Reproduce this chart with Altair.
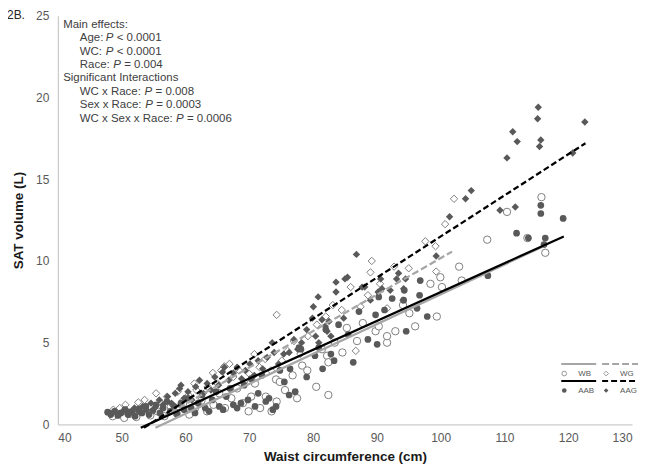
import altair as alt
import pandas as pd

# ---------------- data ----------------
x_ticks = [40, 50, 60, 70, 80, 90, 100, 110, 120, 130]
y_ticks = [0, 5, 10, 15, 20, 25]

groups = ["WB", "WG", "AAB", "AAG"]

# WB: open circles
wb_x = [48.6, 49.6, 50.4, 51.3, 52.3, 53.4, 54.5, 55.6, 56.7, 57.7, 58.6, 59.6, 60.6, 61.5, 62.5,
        63.4, 64.4, 65.3, 66.2, 67.2, 68.1, 69.0, 69.9, 70.3, 70.9, 71.7, 72.6, 73.5, 74.2, 74.3,
        74.8, 75.6, 76.8, 77.5, 78.3, 79.1, 80.5, 81.4, 82.2, 82.4, 82.4, 83.4, 84.6, 85.3, 86.9,
        87.8, 89.8, 90.3, 91.6, 91.6, 92.9, 94.1, 95.1, 96.0, 98.4, 99.4, 99.95, 100.2, 102.9,
        103.3, 107.3, 110.4, 113.6, 115.8, 116.4]
wb_y = [0.5, 0.8, 0.4, 0.65, 0.45, 0.9, 0.55, 0.8, 0.5, 1.1, 0.7, 1.25, 0.6, 1.0, 1.45,
        0.8, 1.2, 1.9, 1.0, 1.6, 2.2, 1.3, 0.8, 1.7, 2.5, 1.0, 1.7, 0.8, 2.75, 1.4,
        2.6, 2.1, 3.0, 1.6, 3.6, 3.3, 2.3, 4.6, 4.2, 3.8, 1.8, 5.0, 4.4, 5.9, 5.1,
        6.2, 5.7, 6.0, 5.0, 5.4, 5.7, 7.3, 6.8, 6.0, 8.6, 6.6, 9.0, 8.4, 9.65,
        8.8, 11.3, 13.0, 11.4, 13.9, 10.5]

# WG: open diamonds
wg_x = [48.7, 49.7, 50.6, 51.6, 52.6, 53.6, 54.4, 55.4, 56.2, 57.1, 58.0, 58.8, 59.7, 60.5, 61.4,
        61.7, 62.6, 63.5, 64.3, 65.0, 65.6, 66.1, 66.9, 67.5, 68.4, 69.2, 70.0, 70.8, 71.6, 72.5,
        73.4, 74.3, 75.1, 76.0, 77.0, 78.0, 79.2, 80.6, 82.0, 83.1, 84.5, 85.9, 86.7, 87.45, 88.6,
        89.0, 89.2, 90.5, 91.6, 92.7, 95.0, 97.6, 99.2, 99.3, 100.7, 102.1]
wg_y = [0.9, 1.0, 1.2, 0.75, 1.35, 1.5, 1.05, 1.9, 1.3, 1.7, 1.2, 2.0, 1.5, 1.8, 2.5,
        2.1, 1.6, 2.3, 3.15, 2.5, 3.3, 3.55, 3.7, 2.9, 3.3, 2.6, 3.1, 4.3, 3.5, 4.0,
        3.3, 6.7, 3.9, 4.5, 5.1, 4.3, 5.4, 6.1, 6.6, 7.3, 7.0, 8.4, 4.5, 7.2, 7.9,
        9.3, 10.0, 8.6, 7.1, 9.65, 9.55, 11.2, 10.9, 9.35, 12.25, 13.8]

# AAB: filled circles
aab_x = [47.8, 48.3, 48.9, 49.4, 49.9, 50.5, 51.0, 51.6, 52.1, 52.7, 53.2, 53.8, 54.3, 54.9, 55.4,
         56.0, 56.5, 57.1, 57.6, 58.2, 58.7, 59.3, 59.8, 60.4, 60.9, 61.5, 62.0, 62.6, 63.1, 63.7,
         64.2, 64.8, 65.3, 65.9, 66.4, 67.0, 67.5, 68.1, 68.7, 69.2, 69.8, 70.3, 70.9, 71.4, 72.0,
         72.6, 73.1, 73.7, 74.2, 74.8, 75.5, 76.25, 76.4, 77.2, 77.8, 78.1, 79.0, 80.3, 80.9, 81.5,
         82.0, 82.8, 83.3, 84.0, 85.5, 86.3, 87.2, 88.6, 89.8, 90.05, 90.3, 91.2, 92.4, 94.2, 94.3,
         94.6, 96.3, 96.7, 96.8, 97.9, 107.4, 111.9, 113.75, 115.7, 115.7, 116.2, 116.4, 119.2]
aab_y = [0.75, 0.6, 0.8, 0.55, 0.7, 0.9, 0.6, 0.8, 0.5, 0.95, 0.7, 1.1, 0.6, 0.85, 1.2,
         0.7, 1.0, 1.4, 0.8, 1.1, 0.6, 1.3, 0.9, 1.6, 1.0, 0.7, 1.3, 1.8, 1.0, 0.8,
         1.5, 2.0, 1.1, 0.9, 1.7, 2.2, 1.2, 1.0, 1.3, 2.4, 1.5, 2.8, 1.1, 1.9, 3.0,
         1.4, 1.6, 0.9, 1.1, 3.3, 2.6, 1.8, 3.4, 2.0, 4.7, 4.6, 2.9, 4.2, 4.7, 3.4,
         5.8, 4.3, 3.9, 6.1, 5.5, 3.8, 6.9, 5.2, 6.7, 4.9, 7.8, 7.0, 7.7, 7.6, 8.2,
         5.7, 7.1, 7.9, 8.8, 6.6, 9.1, 11.7, 11.4, 12.9, 13.4, 11.0, 11.4, 12.6]

# AAG: filled diamonds
aag_x = [48.2, 48.8, 49.5, 50.1, 50.7, 51.3, 52.0, 52.6, 53.3, 53.9, 54.6, 55.2, 55.9, 56.5, 57.2,
         57.8, 58.4, 59.1, 59.3, 59.8, 60.4, 61.0, 61.6, 62.2, 62.8, 63.4, 64.0, 64.6, 65.2, 65.8,
         66.1, 66.8, 67.5, 68.1, 68.8, 69.4, 70.1, 70.8, 71.4, 72.1, 72.8, 73.6, 73.9, 74.6, 75.4,
         76.25, 77.0, 77.6, 78.2, 79.0, 79.9, 80.05, 80.4, 80.8, 80.9, 81.4, 81.9, 82.2, 82.5, 82.8,
         83.6, 83.6, 84.8, 85.0, 85.4, 86.8, 87.7, 88.1, 89.0, 90.2, 90.6, 90.8, 92.1, 93.1, 93.4,
         94.1, 94.2, 94.5, 99.3, 101.4, 103.9, 104.8, 109.3, 110.4, 111.3, 111.7, 112.0, 115.2, 115.3,
         115.5, 115.7, 120.7, 122.6]
aag_y = [0.65, 0.8, 0.6, 0.75, 0.9, 0.7, 1.0, 0.8, 1.1, 0.9, 1.3, 1.0, 1.5, 1.2, 1.7,
         1.3, 1.9, 2.2, 2.4, 1.6, 2.0, 1.5, 2.3, 2.7, 1.9, 2.5, 2.1, 2.9, 2.4, 3.2,
         3.5, 2.7, 3.15, 3.5, 2.8, 3.3, 3.7, 3.0, 3.9, 3.4, 4.1, 5.0, 4.4, 3.7, 4.3,
         4.4, 5.2, 4.6, 5.0, 5.8, 6.5, 7.2, 5.4, 7.8, 5.0, 6.4, 6.0, 5.7, 6.3, 5.4,
         8.1, 8.7, 6.5, 8.9, 9.0, 10.4, 8.4, 8.4, 7.6, 8.1, 8.9, 8.3, 8.2, 8.9, 9.25,
         7.6, 8.3, 8.9, 10.3, 12.7, 13.8, 14.3, 13.1, 16.3, 17.9, 13.3, 17.3, 18.7, 19.4,
         17.0, 17.4, 16.6, 18.5]

# trend line end points
line_x0 = [55.3, 53.5, 53.0, 53.5]
line_y0 = [-0.2, -0.2, -0.2, -0.2]
line_x1 = [116.4, 101.8, 119.3, 122.7]
line_y1 = [10.95, 10.57, 11.5, 17.2]

# annotation text
ann_prefix = ["Main effects:", "Age:", "WC:", "Race:", "Significant Interactions",
              "WC x Race:", "Sex x Race:", "WC x Sex x Race:"]
ann_suffix = ["", "< 0.0001", "< 0.0001", "= 0.004", "", "= 0.008", "= 0.0003", "= 0.0006"]

# ---------------- styling ----------------
OX, OY = 58, 15          # page position of the plot origin
FONT = "Liberation Sans"
GRAY_MK = "#7f7f7f"
DARK_MK = "#595959"
GRAY_LN = "#a6a6a6"

x_axis = alt.Axis(values=x_ticks, title="Waist circumference (cm)", grid=False, ticks=False,
                  domainColor="#bfbfbf", domainWidth=1, labelColor="#595959", labelFont=FONT,
                  labelFontSize=12, labelPadding=8, titleFont=FONT, titleFontSize=13.5,
                  titleFontWeight="bold", titleColor="#1a1a1a", titlePadding=6)
y_axis = alt.Axis(values=y_ticks, title="SAT volume (L)", grid=False, ticks=False,
                  domainColor="#bfbfbf", domainWidth=1, labelColor="#595959", labelFont=FONT,
                  labelFontSize=12, labelPadding=9, titleFont=FONT, titleFontSize=13.5,
                  titleFontWeight="bold", titleColor="#1a1a1a", titlePadding=10)

x_enc = alt.X("wc:Q", scale=alt.Scale(domain=[40, 130], nice=False, zero=False), axis=x_axis)
y_enc = alt.Y("sat:Q", scale=alt.Scale(domain=[0, 25], nice=False, zero=False), axis=y_axis)


def pts(xs, ys):
    return pd.DataFrame({"wc": xs, "sat": ys})


def blank():
    return alt.Chart(alt.Data(values=[{"k": 0}]))


layers = []

# points
layers.append(alt.Chart(pts(wb_x, wb_y)).mark_point(
    shape="circle", filled=True, fill="white", stroke=GRAY_MK, strokeWidth=1, size=55, opacity=1
).encode(x=x_enc, y=y_enc))
layers.append(alt.Chart(pts(wg_x, wg_y)).mark_point(
    shape="diamond", filled=True, fill="white", stroke=GRAY_MK, strokeWidth=1, size=55, opacity=1
).encode(x=x_enc, y=y_enc))
layers.append(alt.Chart(pts(aab_x, aab_y)).mark_point(
    shape="circle", filled=True, color=DARK_MK, size=45, opacity=1
).encode(x=x_enc, y=y_enc))
layers.append(alt.Chart(pts(aag_x, aag_y)).mark_point(
    shape="diamond", filled=True, color=DARK_MK, size=55, opacity=1
).encode(x=x_enc, y=y_enc))

# trend lines
line_style = {
    "WB": dict(color=GRAY_LN, strokeWidth=2.25),
    "WG": dict(color=GRAY_LN, strokeWidth=2.25, strokeDash=[7, 3]),
    "AAB": dict(color="#000000", strokeWidth=2.25),
    "AAG": dict(color="#000000", strokeWidth=2.25, strokeDash=[6, 3]),
}
for i, g in enumerate(groups):
    df = pd.DataFrame({"wc": [line_x0[i], line_x1[i]], "sat": [line_y0[i], line_y1[i]]})
    layers.append(alt.Chart(df).mark_line(**line_style[g]).encode(x=x_enc, y=y_enc))

# custom legend (page coordinates)
leg = [
    # group, rule x0, x1, rule y, marker x, marker y, text x
    ("WB", 563, 598, 364.5, 566, 374, 580),
    ("WG", 604, 640, 364.5, 608, 374, 622),
    ("AAB", 563, 598, 381.5, 566, 391, 580),
    ("AAG", 604, 640, 381.5, 608, 391, 622),
]
leg_marker = {
    "WB": dict(shape="circle", filled=True, fill="white", stroke=GRAY_MK, strokeWidth=0.8),
    "WG": dict(shape="diamond", filled=True, fill="white", stroke=GRAY_MK, strokeWidth=0.8),
    "AAB": dict(shape="circle", filled=True, color=DARK_MK),
    "AAG": dict(shape="diamond", filled=True, color=DARK_MK),
}
for g, rx0, rx1, ry, mx, my, tx in leg:
    st = dict(line_style[g])
    st["strokeWidth"] = 2
    layers.append(blank().mark_rule(**st).encode(
        x=alt.value(rx0 - OX), x2=alt.value(rx1 - OX), y=alt.value(ry - OY)))
    layers.append(blank().mark_point(size=22, opacity=1, **leg_marker[g]).encode(
        x=alt.value(mx - OX), y=alt.value(my - OY)))
    layers.append(blank().mark_text(align="left", baseline="middle", font=FONT, fontSize=8,
                                    color="#595959").encode(
        x=alt.value(tx - OX), y=alt.value(my - OY), text=alt.value(g)))

# panel label
layers.append(blank().mark_text(align="left", baseline="alphabetic", font=FONT, fontSize=12,
                                color="#262626").encode(
    x=alt.value(7 - OX), y=alt.value(18 - OY), text=alt.value("2B.")))

# annotation block
ann_base = [27, 40.5, 54, 67.5, 81, 94.5, 108, 121.5]
ann_x = [63.3, 80, 80, 80, 63.3, 80, 80, 80]
ann_px = [None, 106, 106, 113.5, None, 145, 145.7, 176.5]
for i, txt in enumerate(ann_prefix):
    layers.append(blank().mark_text(align="left", baseline="alphabetic", font=FONT,
                                    fontSize=11.5, color="#404040").encode(
        x=alt.value(ann_x[i] - OX), y=alt.value(ann_base[i] - OY), text=alt.value(txt)))
    if ann_px[i] is not None:
        layers.append(blank().mark_text(align="left", baseline="alphabetic", font=FONT,
                                        fontSize=11.5, fontStyle="italic", color="#404040").encode(
            x=alt.value(ann_px[i] - OX), y=alt.value(ann_base[i] - OY), text=alt.value("P")))
        layers.append(blank().mark_text(align="left", baseline="alphabetic", font=FONT,
                                        fontSize=11.5, color="#404040").encode(
            x=alt.value(ann_px[i] + 11 - OX), y=alt.value(ann_base[i] - OY),
            text=alt.value(ann_suffix[i])))

chart = alt.layer(*layers).properties(
    width=576, height=410,
    autosize=alt.AutoSizeParams(type="none"),
    padding={"left": 50, "top": 7, "right": 14, "bottom": 40},
    background="white",
).configure_view(stroke=None)

chart.save("out.html", embed_options={"renderer": "svg", "actions": False})
